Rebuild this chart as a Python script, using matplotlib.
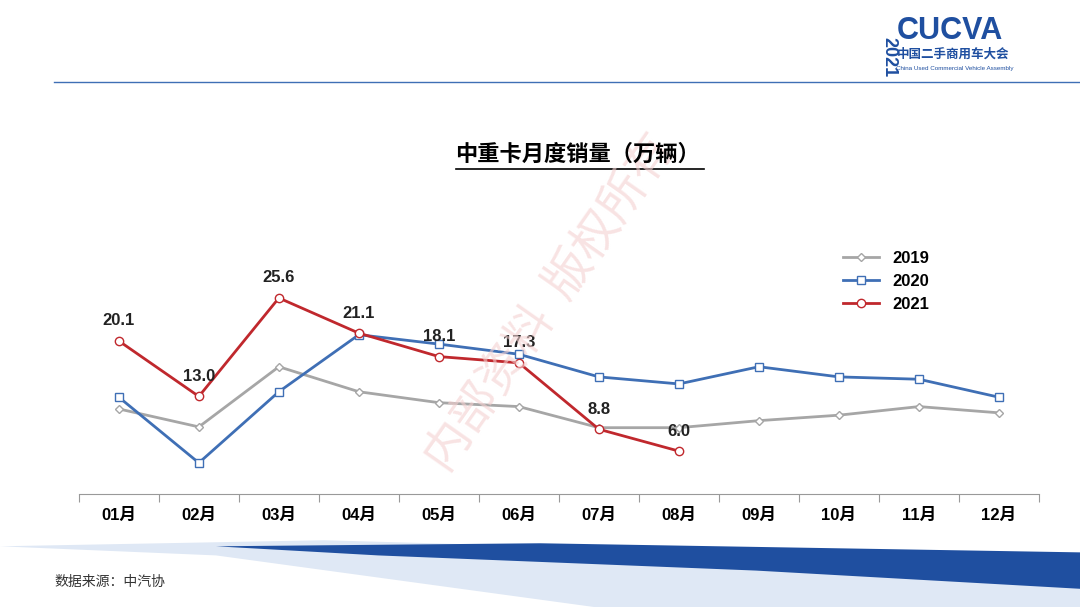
import numpy as np
import matplotlib.pyplot as plt
from matplotlib.patches import Polygon

plt.rcParams['font.family'] = ['Liberation Sans', 'Noto Sans CJK SC']

months = ['01月', '02月', '03月', '04月', '05月', '06月', '07月', '08月', '09月', '10月', '11月', '12月']
sales_2019 = [11.4, 9.1, 16.8, 13.6, 12.2, 11.7, 9.0, 9.0, 9.9, 10.6, 11.7, 10.9]
sales_2020 = [12.9, 4.5, 13.6, 20.9, 19.7, 18.4, 15.5, 14.6, 16.8, 15.5, 15.2, 12.9]
sales_2021 = [20.1, 13.0, 25.6, 21.1, 18.1, 17.3, 8.8, 6.0]

fig = plt.figure(figsize=(10.8, 6.07), dpi=100)
fig.patch.set_facecolor('white')

# watermark (behind chart)
fig.text(0.51, 0.5, '内部资料  版权所有', fontsize=34, color='#f4d0d0', alpha=0.6,
         rotation=55, ha='center', va='center', family='Noto Sans CJK SC')

ax = fig.add_axes([0.073, 0.186, 0.889, 0.484])

x = np.arange(len(months))
ax.plot(x, sales_2019, color='#a6a6a6', lw=2, marker='D', ms=4.5, mfc='white', mec='#a6a6a6', label='2019')
ax.plot(x, sales_2020, color='#3f6fb5', lw=2, marker='s', ms=6, mfc='white', mec='#3f6fb5', label='2020')
x21 = np.arange(len(sales_2021))
ax.plot(x21, sales_2021, color='#c0282d', lw=2, marker='o', ms=6, mfc='white', mec='#c0282d', label='2021')
for xi, v in zip(x21, sales_2021):
    ax.annotate(f'{v:.1f}', (xi, v), xytext=(0, 9), textcoords='offset points',
                ha='center', va='bottom', fontsize=12, fontweight='bold', color='#222222')

ax.set_xlim(-0.5, 11.5)
ax.set_ylim(0.5, 38.1)
ax.set_yticks([])
ax.set_xticks(np.arange(-0.5, 12, 1))
ax.set_xticklabels([])
ax.set_xticks(x, minor=True)
ax.set_xticklabels(months, minor=True, fontsize=12, fontweight='bold')
ax.tick_params(axis='x', which='major', length=6, color='#999999')
ax.tick_params(axis='x', which='minor', length=0, pad=10)
for s in ['top', 'right', 'left']:
    ax.spines[s].set_visible(False)
ax.spines['bottom'].set_color('#999999')
ax.set_facecolor('none')
ax.legend(loc='upper left', bbox_to_anchor=(0.78, 0.88), frameon=False,
          prop={'size': 12, 'weight': 'bold'}, handlelength=2.2, labelspacing=0.5)

# title
fig.text(0.535, 0.735, '中重卡月度销量（万辆）', ha='center', fontsize=16, fontweight='bold',
         family='Noto Sans CJK SC')
fig.add_artist(plt.Line2D([0.422, 0.652], [0.722, 0.722], color='black', lw=1.2))

# header
fig.add_artist(plt.Line2D([0.05, 1.0], [0.865, 0.865], color='#3f6fb5', lw=1))
fig.text(0.83, 0.935, 'CUCVA', fontsize=22, fontweight='bold', color='#1f4fa0')
fig.text(0.83, 0.905, '中国二手商用车大会', fontsize=9, fontweight='bold', color='#1f4fa0',
         family='Noto Sans CJK SC')
fig.text(0.83, 0.885, 'China Used Commercial Vehicle Assembly', fontsize=4.5, color='#1f4fa0')
fig.text(0.815, 0.88, '2021', fontsize=13, fontweight='bold', color='#1f4fa0', rotation=-90)

# bottom band
fig.add_artist(Polygon([[0.0, 0.10], [0.3, 0.11], [1.0, 0.075], [1.0, 0.0], [0.55, 0.0], [0.2, 0.085]],
                       closed=True, transform=fig.transFigure, facecolor='#dfe8f5', edgecolor='none'))
fig.add_artist(Polygon([[0.2, 0.10], [0.5, 0.105], [1.0, 0.09], [1.0, 0.03], [0.7, 0.06], [0.35, 0.085]],
                       closed=True, transform=fig.transFigure, facecolor='#1f4fa0', edgecolor='none'))
fig.text(0.05, 0.035, '数据来源：中汽协', fontsize=10, color='#333333', family='Noto Sans CJK SC')

fig.savefig('out.png', dpi=100, facecolor='white')
